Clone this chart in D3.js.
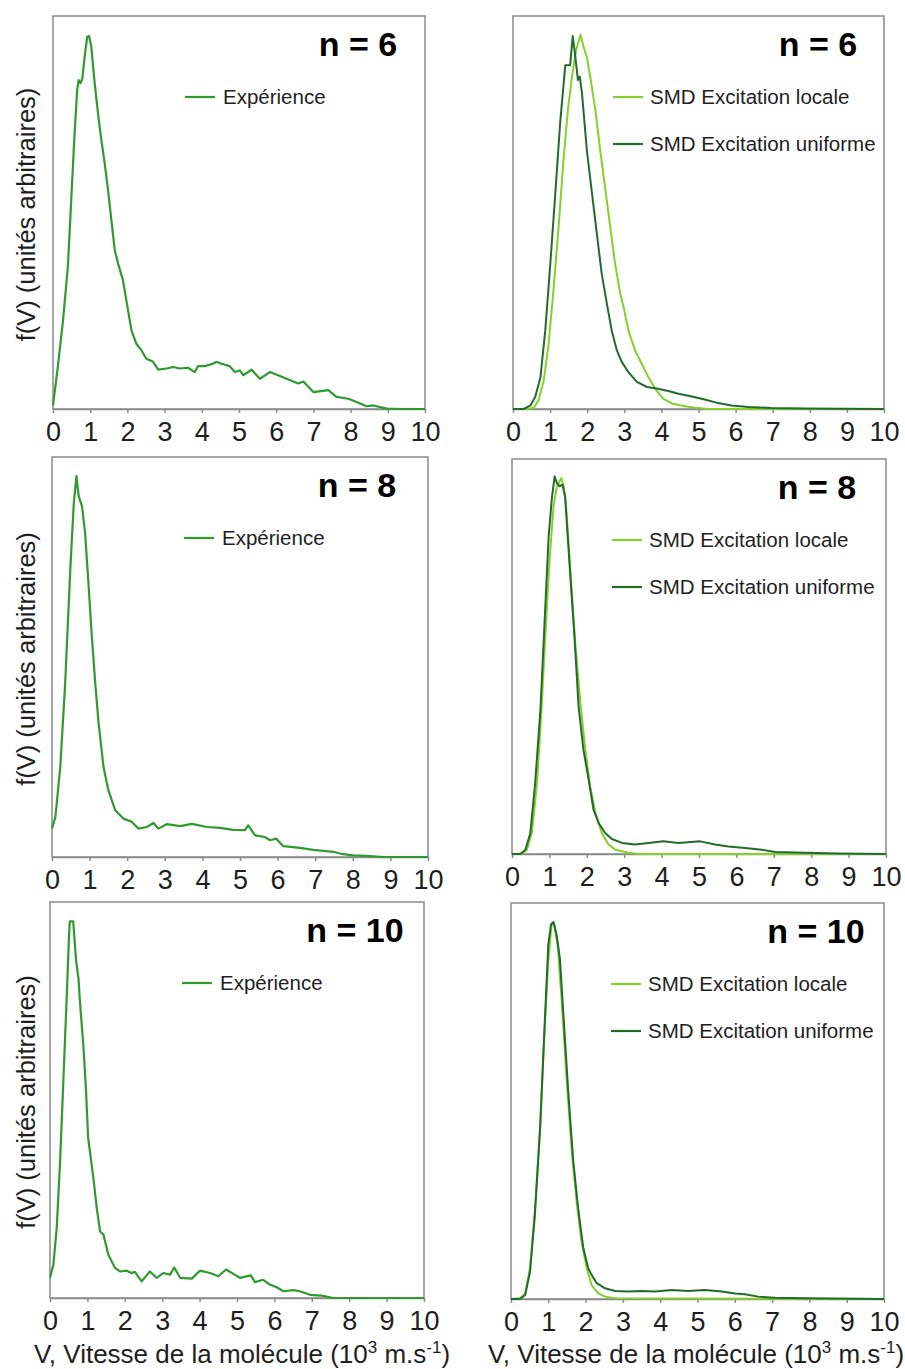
<!DOCTYPE html>
<html><head><meta charset="utf-8">
<script src="https://cdn.jsdelivr.net/npm/d3@7"></script>
<style>body{margin:0;background:#fff}svg{display:block}</style>
</head><body>
<svg id="c" width="905" height="1369"></svg>
<script>
// x ticks (10^3 m/s)
const xTicks = [0,1,2,3,4,5,6,7,8,9,10];
const nLabels = ["n = 6","n = 8","n = 10"];
const legExp = ["Expérience"];
const legSMD = ["SMD Excitation locale","SMD Excitation uniforme"];

// Expérience, n = 6  [V, f(V)] (f in % of panel height)
const exp6 = [[0,0.9],[0.13,10.7],[0.27,22.6],[0.40,36.2],[0.49,53.1],[0.58,70.1],[0.65,81.2],[0.69,83.7],[0.74,82.9],[0.79,84.1],[0.85,89.6],[0.92,94.7],[0.97,94.9],[1.03,92.2],[1.12,82.9],[1.21,75.2],[1.30,68.4],[1.39,62.5],[1.48,55.7],[1.57,48.0],[1.66,40.4],[1.75,37.0],[1.88,32.8],[1.97,27.7],[2.11,20.0],[2.24,16.6],[2.38,14.9],[2.51,12.8],[2.69,12.0],[2.83,10.0],[3.05,10.3],[3.23,10.7],[3.41,10.3],[3.63,10.5],[3.81,9.4],[3.90,10.9],[4.08,10.9],[4.30,11.5],[4.39,12.0],[4.53,11.5],[4.75,10.9],[4.89,9.4],[5.02,9.8],[5.11,8.6],[5.34,10.0],[5.56,7.7],[5.83,9.4],[6.05,8.6],[6.28,7.7],[6.59,6.5],[6.73,7.0],[7.0,4.3],[7.4,4.8],[7.62,3.1],[7.94,2.6],[8.16,1.8],[8.43,0.7],[8.61,0.9],[8.97,0.1],[9.33,0],[10,0]];
// SMD locale, n = 6
const loc6 = [[0,0],[0.38,0],[0.56,0.3],[0.69,2.2],[0.83,7.3],[0.96,16.6],[1.09,30.2],[1.23,46.4],[1.36,63.3],[1.48,76.1],[1.59,84.6],[1.70,91.3],[1.82,95.2],[1.90,92.2],[1.99,89.6],[2.08,84.6],[2.22,76.1],[2.35,65.9],[2.48,56.5],[2.62,46.4],[2.75,37.0],[2.89,29.4],[2.98,26.0],[3.11,20.0],[3.29,14.9],[3.47,11.5],[3.65,8.1],[3.83,5.2],[4.05,2.6],[4.28,1.4],[4.64,0.7],[4.91,0.3],[5.26,0],[10,0]];
// SMD uniforme, n = 6
const uni6 = [[0,0],[0.29,0],[0.47,0.9],[0.60,3.1],[0.74,8.1],[0.87,20.0],[1.00,36.2],[1.14,54.8],[1.27,72.7],[1.41,87.5],[1.54,87.5],[1.61,94.9],[1.68,89.6],[1.75,83.7],[1.80,84.6],[1.86,80.3],[1.99,65.9],[2.13,54.8],[2.26,44.6],[2.39,34.5],[2.53,26.8],[2.66,20.0],[2.80,14.9],[2.93,12.0],[3.11,9.4],[3.34,6.9],[3.61,5.6],[3.87,5.2],[4.19,4.6],[4.46,3.9],[4.82,3.2],[5.17,2.4],[5.53,1.5],[5.89,0.9],[6.34,0.5],[6.97,0.25],[7.87,0.1],[10,0]];
// Expérience, n = 8
const exp8 = [[0,7.1],[0.09,10.0],[0.22,22.5],[0.35,43.4],[0.49,72.6],[0.58,88.5],[0.65,95.2],[0.71,90.2],[0.80,87.6],[0.88,81.0],[0.97,68.4],[1.06,55.1],[1.15,43.4],[1.24,33.4],[1.37,22.5],[1.50,16.7],[1.68,11.7],[1.90,9.6],[2.12,8.8],[2.30,7.1],[2.52,7.5],[2.70,8.5],[2.83,7.1],[3.05,8.2],[3.41,7.7],[3.72,8.3],[4.12,7.5],[4.47,7.3],[4.82,6.8],[5.13,6.7],[5.22,7.9],[5.40,5.4],[5.66,5.0],[5.80,4.2],[5.96,4.6],[6.15,2.7],[6.59,2.3],[6.95,1.8],[7.48,1.3],[7.74,0.7],[8.01,0.4],[8.36,0.3],[8.81,0],[10,0]];
// SMD locale, n = 8
const loc8 = [[0,0],[0.27,0.1],[0.40,1.1],[0.53,5.3],[0.67,18.0],[0.78,34.9],[0.89,55.1],[1.00,73.7],[1.11,88.0],[1.20,93.1],[1.32,95.2],[1.38,93.1],[1.44,88.9],[1.56,72.0],[1.69,53.4],[1.83,38.2],[1.96,26.4],[2.09,17.1],[2.23,10.4],[2.40,5.3],[2.58,2.4],[2.76,1.1],[2.94,0.7],[3.12,0.3],[3.38,0],[10,0]];
// SMD uniforme, n = 8
const uni8 = [[0,0],[0.22,0],[0.36,1.1],[0.49,5.3],[0.62,18.0],[0.76,36.5],[0.87,58.5],[0.98,80.4],[1.07,90.5],[1.14,95.6],[1.20,93.9],[1.27,93.1],[1.35,93.5],[1.42,90.5],[1.56,70.3],[1.67,55.1],[1.78,37.4],[1.91,26.4],[2.05,18.8],[2.18,11.2],[2.32,7.8],[2.49,5.3],[2.67,3.8],[2.94,2.8],[3.29,2.4],[3.65,2.8],[4.05,3.2],[4.45,2.8],[5.03,3.2],[5.43,2.4],[5.79,1.9],[6.23,1.5],[6.68,1.1],[7.03,0.5],[7.84,0.3],[8.73,0.1],[10,0]];
// Expérience, n = 10
const exp10 = [[0,5.1],[0.09,8.4],[0.18,17.7],[0.27,34.5],[0.36,55.6],[0.45,76.6],[0.51,91.8],[0.53,95.1],[0.62,95.1],[0.70,85.0],[0.76,80.8],[0.80,74.9],[0.89,64.0],[0.96,53.0],[1.02,40.4],[1.16,30.3],[1.25,22.7],[1.34,16.8],[1.43,16.0],[1.56,10.9],[1.74,7.6],[1.87,6.7],[2.05,6.9],[2.18,6.3],[2.27,6.6],[2.45,4.2],[2.67,6.7],[2.85,5.1],[3.03,6.3],[3.21,5.9],[3.32,7.7],[3.48,5.1],[3.79,4.9],[4.01,6.9],[4.28,6.3],[4.50,5.5],[4.71,7.2],[4.90,6.1],[5.08,5.1],[5.37,5.7],[5.48,4.0],[5.70,4.6],[5.88,3.4],[6.06,2.7],[6.24,1.7],[6.51,2.0],[6.68,1.7],[6.95,0.8],[7.26,0.6],[7.58,0],[10,0]];
// SMD locale, n = 10
const loc10 = [[0,0],[0.24,0.2],[0.38,1.4],[0.51,7.8],[0.64,22.1],[0.78,43.1],[0.89,65.9],[1.00,85.3],[1.09,94.9],[1.16,94.5],[1.25,89.5],[1.36,75.1],[1.49,55.8],[1.63,37.2],[1.76,24.6],[1.89,14.5],[2.03,7.8],[2.16,3.5],[2.34,1.4],[2.52,0.6],[2.79,0.2],[10,0]];
// SMD uniforme, n = 10
const uni10 = [[0,0],[0.24,0],[0.38,1.0],[0.51,6.9],[0.64,21.2],[0.78,43.1],[0.89,66.7],[1.00,89.5],[1.07,94.5],[1.14,95.2],[1.22,92.0],[1.31,86.1],[1.40,72.6],[1.54,51.6],[1.67,34.7],[1.81,22.1],[1.94,12.8],[2.07,7.8],[2.16,6.1],[2.30,4.0],[2.52,2.7],[2.79,2.0],[3.15,1.9],[3.50,2.0],[3.86,1.9],[4.31,2.3],[4.75,2.0],[5.20,2.3],[5.65,1.9],[6.01,1.4],[6.27,1.2],[6.63,0.6],[7.08,0.3],[7.88,0.2],[10,0]];

const colExp = "#2f9a2f", colLoc = "#84d12c", colUni = "#226b2c";

const panels = [
  {box:[53,16,425,409], title:nLabels[0], series:[{d:exp6,c:colExp,w:2.2}], leg:"exp", yl:true, xl:null},
  {box:[513,16,884,409], title:nLabels[0], series:[{d:loc6,c:colLoc,w:2},{d:uni6,c:colUni,w:2}], leg:"smd", yl:false, xl:null},
  {box:[52,457,428,857], title:nLabels[1], series:[{d:exp8,c:colExp,w:2.2}], leg:"exp", yl:true, xl:null},
  {box:[512,459,886,854], title:nLabels[1], series:[{d:loc8,c:colLoc,w:2},{d:uni8,c:colUni,w:2}], leg:"smd", yl:false, xl:null},
  {box:[50,902,424,1298], title:nLabels[2], series:[{d:exp10,c:colExp,w:2.2}], leg:"exp", yl:true, xl:242},
  {box:[511,903,884,1299], title:nLabels[2], series:[{d:loc10,c:colLoc,w:2},{d:uni10,c:colUni,w:2}], leg:"smd", yl:false, xl:696}
];

const svg = d3.select("#c");
const font = "'Liberation Sans', Arial, sans-serif";
const txt = "#1e1e1e";

panels.forEach(p => {
  const [x0,y0,x1,y1] = p.box;
  const x = d3.scaleLinear().domain([0,10]).range([x0,x1]);
  const y = d3.scaleLinear().domain([0,100]).range([y1,y0]);
  const g = svg.append("g");

  // frame
  g.append("rect").attr("x",x0).attr("y",y0).attr("width",x1-x0).attr("height",y1-y0)
    .attr("fill","none").attr("stroke","#8a8a8a").attr("stroke-width",1.5);

  // x axis
  const ax = g.append("g").attr("transform",`translate(0,${y1})`)
    .call(d3.axisBottom(x).tickValues(xTicks).tickSize(4).tickSizeOuter(0).tickPadding(6).tickFormat(d3.format("d")));
  ax.select(".domain").attr("stroke","#8a8a8a").attr("stroke-width",1.5);
  ax.selectAll(".tick line").attr("stroke","#8a8a8a").attr("stroke-width",1.5);
  ax.selectAll(".tick text").attr("font-family",font).attr("font-size",27).attr("fill",txt)
    .attr("y",null).attr("dy",null).attr("transform","translate(0,32)");

  // curves
  const line = d3.line().x(d=>x(d[0])).y(d=>y(d[1]));
  p.series.forEach(s => {
    g.append("path").datum(s.d).attr("d",line).attr("fill","none")
      .attr("stroke",s.c).attr("stroke-width",s.w).attr("stroke-linejoin","round");
  });

  // title
  g.append("text").attr("x",x0+305).attr("y",y0+40).attr("text-anchor","middle")
    .attr("font-family",font).attr("font-weight","bold").attr("font-size",34).attr("fill","#000")
    .text(p.title);

  // legend
  if (p.leg === "exp") {
    const ly = y0+81;
    g.append("line").attr("x1",x0+132).attr("x2",x0+162).attr("y1",ly).attr("y2",ly)
      .attr("stroke",colExp).attr("stroke-width",2.2);
    g.append("text").attr("x",x0+170).attr("y",ly+7).attr("font-family",font).attr("font-size",20.5)
      .attr("fill",txt).text(legExp[0]);
  } else {
    [[legSMD[0],colLoc,81],[legSMD[1],colUni,128]].forEach(([t,c,off]) => {
      const ly = y0+off;
      g.append("line").attr("x1",x0+100).attr("x2",x0+130).attr("y1",ly).attr("y2",ly)
        .attr("stroke",c).attr("stroke-width",2.2);
      g.append("text").attr("x",x0+137).attr("y",ly+7).attr("font-family",font).attr("font-size",20.5)
        .attr("fill",txt).text(t);
    });
  }

  // y label
  if (p.yl) {
    const cy = (y0+y1)/2 + 2;
    g.append("text").attr("transform",`translate(35,${cy}) rotate(-90)`).attr("text-anchor","middle")
      .attr("font-family",font).attr("font-size",25.5).attr("fill",txt).text("f(V) (unités arbitraires)");
  }
  // x label
  if (p.xl !== null) {
    const t = g.append("text").attr("x",p.xl).attr("y",1363).attr("text-anchor","middle")
      .attr("font-family",font).attr("font-size",26).attr("fill",txt);
    t.append("tspan").text("V, Vitesse de la molécule (10");
    t.append("tspan").attr("dy",-10).attr("font-size",17).text("3");
    t.append("tspan").attr("dy",10).text(" m.s");
    t.append("tspan").attr("dy",-10).attr("font-size",17).text("-1");
    t.append("tspan").attr("dy",10).text(")");
  }
});
</script>
</body></html>
